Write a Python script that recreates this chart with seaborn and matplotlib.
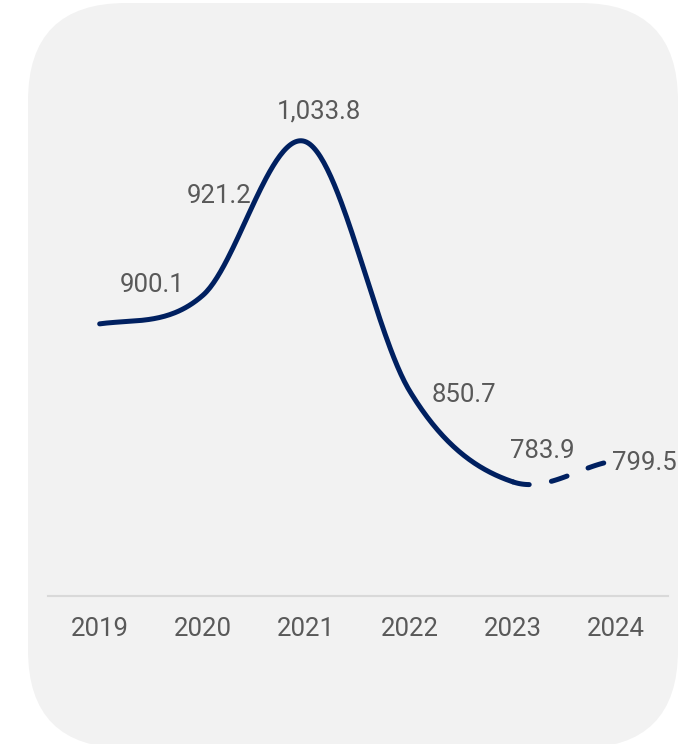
import numpy as np
import pandas as pd
import seaborn as sns
import matplotlib
matplotlib.use("Agg")
import matplotlib.pyplot as plt
from matplotlib.patches import FancyBboxPatch

# Data
years = ["2019", "2020", "2021", "2022", "2023", "2024"]
values = [900.1, 921.2, 1033.8, 850.7, 783.9, 799.5]
value_labels = ["900.1", "921.2", "1,033.8", "850.7", "783.9", "799.5"]
first_projected = 4  # segment from this index onward is drawn dashed

# Label placement (pixel offsets from each point to the label baseline centre)
label_offsets = [(52, 32), (16, 92), (13, 24), (54, -11), (29, 24), (28, -9)]

LINE_COLOR = "#002060"
TEXT_COLOR = "#595959"
PANEL_COLOR = "#f2f2f2"
AXIS_COLOR = "#d9d9d9"

sns.set_theme(style="white")
plt.rcParams["font.family"] = ["Roboto", "DejaVu Sans"]


def smooth_curve(xs, ys, per_seg=60):
    """Cubic Hermite curve with Catmull-Rom tangents through the points."""
    xs = np.asarray(xs, float)
    ys = np.asarray(ys, float)
    n = len(ys)
    m = np.empty(n)
    m[1:-1] = (ys[2:] - ys[:-2]) / 2.0
    m[0] = (ys[1] - ys[0]) / 2.0
    m[-1] = (ys[-1] - ys[-2]) / 2.0
    out_x, out_y, seg = [], [], []
    t = np.linspace(0, 1, per_seg)
    h00 = 2 * t**3 - 3 * t**2 + 1
    h10 = t**3 - 2 * t**2 + t
    h01 = -2 * t**3 + 3 * t**2
    h11 = t**3 - t**2
    for i in range(n - 1):
        out_x.append(xs[i] + t * (xs[i + 1] - xs[i]))
        out_y.append(h00 * ys[i] + h10 * m[i] + h01 * ys[i + 1] + h11 * m[i + 1])
        seg.append(np.full(per_seg, i))
    return np.concatenate(out_x), np.concatenate(out_y), np.concatenate(seg)


pos = np.arange(len(years))
cx, cy, cseg = smooth_curve(pos, values)
curve = pd.DataFrame({"x": cx, "y": cy, "seg": cseg})
solid = curve[curve["seg"] < first_projected]
dashed = curve[curve["seg"] >= first_projected]

fig = plt.figure(figsize=(7.0, 7.44), dpi=100)
fig.patch.set_facecolor("white")

# Rounded card behind the chart
card = FancyBboxPatch(
    (0.28, -0.04), 6.50, 7.45,
    boxstyle="round,pad=0,rounding_size=0.98",
    transform=fig.dpi_scale_trans,
    facecolor=PANEL_COLOR, edgecolor="none", zorder=-5,
)
fig.patches.append(card)

ax = fig.add_axes([48 / 700, 148 / 744, 620 / 700, 544 / 744])
ax.set_facecolor("none")
ax.set_zorder(1)

sns.lineplot(data=solid, x="x", y="y", ax=ax, color=LINE_COLOR, linewidth=3.6,
             solid_capstyle="round", sort=False, estimator=None)
sns.lineplot(data=dashed, x="x", y="y", ax=ax, color=LINE_COLOR, linewidth=3.6,
             linestyle=(0, (3.3, 4.5)), dash_capstyle="round", sort=False,
             estimator=None)

for i, (v, lab) in enumerate(zip(values, value_labels)):
    dx, dy = label_offsets[i]
    ax.annotate(lab, xy=(pos[i], v), xytext=(dx, dy), textcoords="offset pixels",
                ha="center", va="baseline", fontsize=18.5, color=TEXT_COLOR)

ax.set_xlim(-0.5, len(years) - 0.5)
ax.set_ylim(700, 1100)
ax.set_xticks(pos)
ax.set_xticklabels(years)
ax.set_yticks([])
ax.set_xlabel("")
ax.set_ylabel("")
ax.tick_params(axis="x", length=0, pad=15, labelsize=18.5, labelcolor=TEXT_COLOR)
for side in ["top", "left", "right"]:
    ax.spines[side].set_visible(False)
ax.spines["bottom"].set_color(AXIS_COLOR)
ax.spines["bottom"].set_linewidth(1.5)

fig.savefig("out.png", dpi=100, facecolor="white")
